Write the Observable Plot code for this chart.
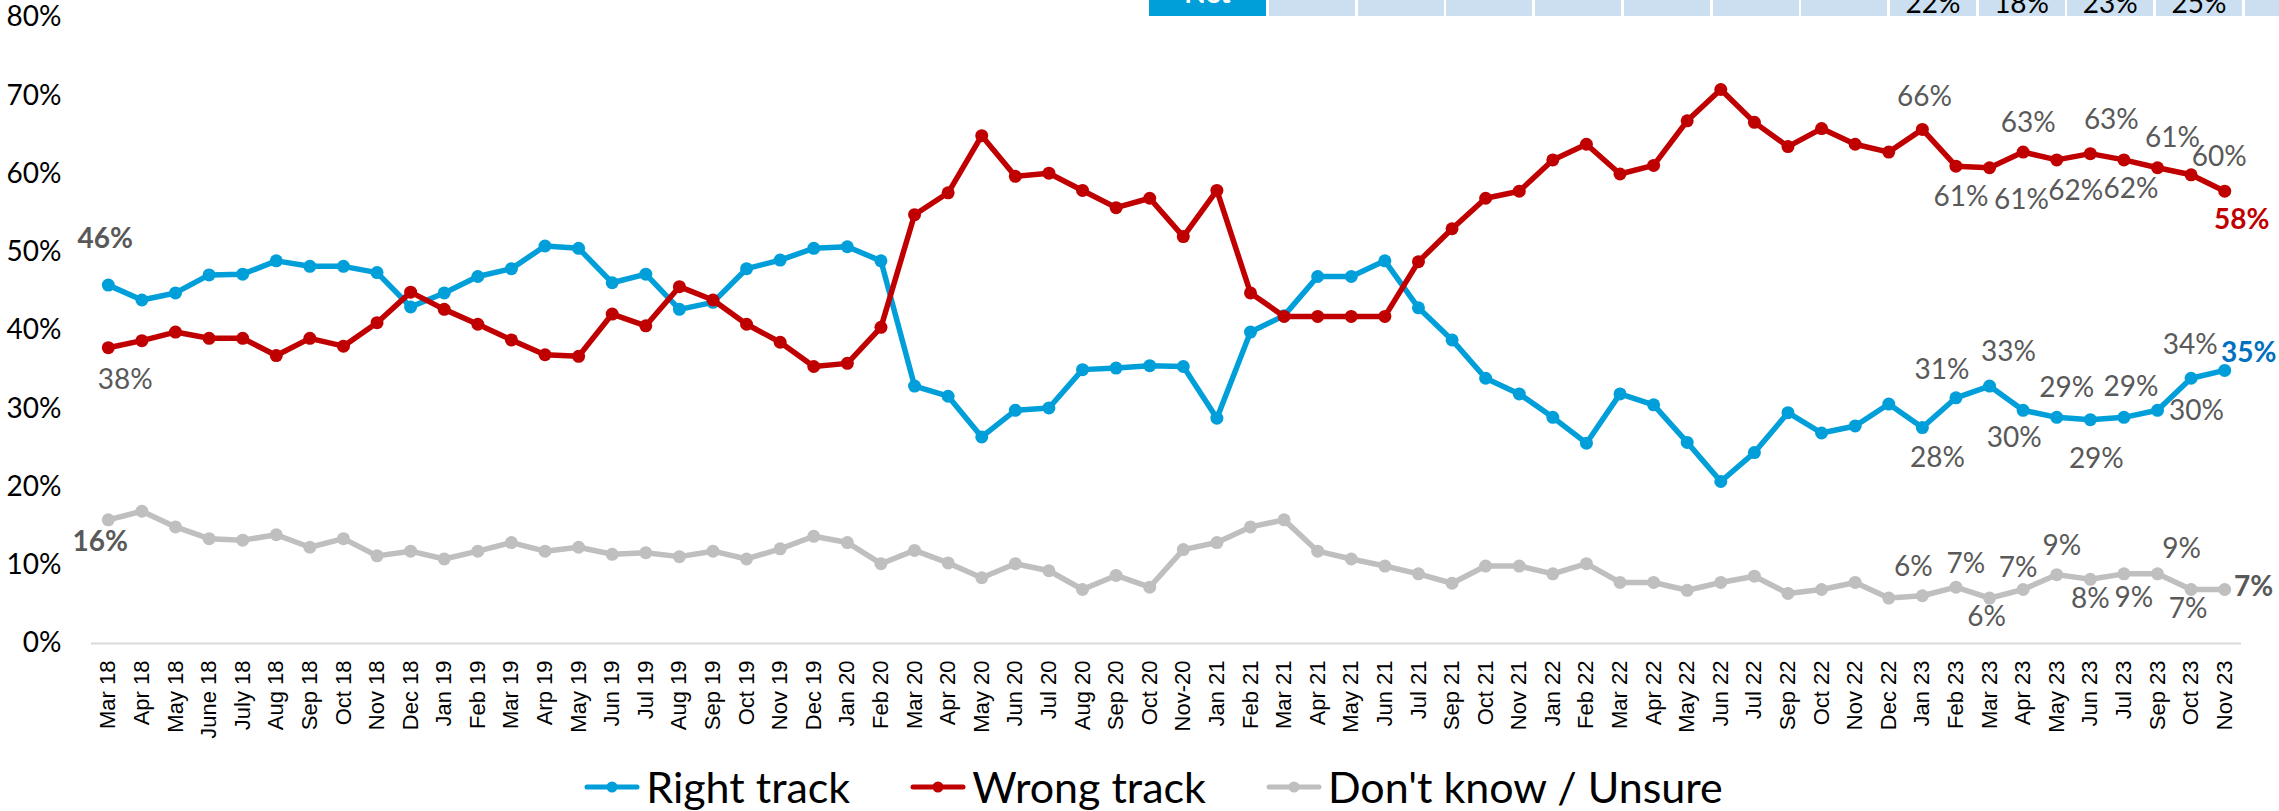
<!DOCTYPE html>
<html><head><meta charset="utf-8">
<script src="https://cdn.jsdelivr.net/npm/d3@7"></script>
<script src="https://cdn.jsdelivr.net/npm/@observablehq/plot@0.6"></script>
<style>
html,body{margin:0;padding:0;background:#fff;}
body{width:2279px;height:811px;overflow:hidden;position:relative;font-family:Lato,"Open Sans",sans-serif;}
#chart{position:absolute;left:0;top:0;}
.cell{position:absolute;top:0;height:16px;}
.cell span{position:absolute;left:0;right:0;text-align:center;font-size:28px;line-height:28px;white-space:nowrap;}
#legend{position:absolute;left:0;top:765px;width:2279px;display:flex;justify-content:center;padding-left:28px;box-sizing:border-box;font-size:43px;line-height:43px;color:#000;}
.item{display:flex;align-items:center;margin:0 30px;}
.item svg{margin-right:6px;}
</style></head><body>
<div id="chart"></div>
<div id="strip"></div>
<div id="legend"></div>
<script>
// ---------- data ----------
const months = ["Mar 18","Apr 18","May 18","June 18","July 18","Aug 18","Sep 18","Oct 18","Nov 18","Dec 18",
"Jan 19","Feb 19","Mar 19","Arp 19","May 19","Jun 19","Jul 19","Aug 19","Sep 19","Oct 19","Nov 19","Dec 19",
"Jan 20","Feb 20","Mar 20","Apr 20","May 20","Jun 20","Jul 20","Aug 20","Sep 20","Oct 20","Nov-20",
"Jan 21","Feb 21","Mar 21","Apr 21","May 21","Jun 21","Jul 21","Sep 21","Oct 21","Nov 21",
"Jan 22","Feb 22","Mar 22","Apr 22","May 22","Jun 22","Jul 22","Sep 22","Oct 22","Nov 22","Dec 22",
"Jan 23","Feb 23","Mar 23","Apr 23","May 23","Jun 23","Jul 23","Sep 23","Oct 23","Nov 23"];

const rightTrack = [45.8,43.9,44.8,47.1,47.2,48.9,48.2,48.2,47.4,43.0,
44.8,46.9,47.9,50.8,50.5,46.1,47.2,42.7,43.6,47.9,
49.0,50.5,50.7,48.9,32.9,31.6,26.4,29.8,30.1,35.0,
35.2,35.5,35.4,28.8,39.8,41.9,46.9,46.9,48.9,42.9,
38.8,33.9,31.9,28.9,25.6,31.9,30.5,25.7,20.7,24.4,
29.5,26.9,27.8,30.6,27.6,31.4,32.9,29.8,28.9,28.6,
28.9,29.8,33.9,34.9];

const wrongTrack = [37.8,38.7,39.8,39.0,39.0,36.8,39.0,38.0,41.0,44.9,
42.7,40.8,38.8,36.9,36.7,42.1,40.6,45.6,43.9,40.8,
38.5,35.4,35.8,40.4,54.8,57.6,64.9,59.7,60.1,57.9,
55.7,56.9,52.0,57.9,44.8,41.8,41.8,41.8,41.8,48.8,
53.0,56.9,57.8,61.8,63.8,60.0,61.1,66.8,70.8,66.6,
63.5,65.8,63.8,62.8,65.7,61.0,60.8,62.8,61.8,62.6,
61.8,60.8,59.9,57.8];

const dontKnow = [15.8,16.9,14.9,13.4,13.2,13.9,12.3,13.4,11.2,11.8,
10.8,11.8,12.9,11.8,12.3,11.4,11.6,11.1,11.8,10.8,
12.1,13.7,12.9,10.2,11.9,10.3,8.4,10.2,9.3,6.9,
8.7,7.2,12.0,12.9,14.9,15.8,11.8,10.8,9.9,8.9,
7.7,9.9,9.9,8.9,10.2,7.8,7.8,6.8,7.8,8.6,
6.4,6.9,7.8,5.8,6.1,7.2,5.8,6.9,8.8,8.2,
8.9,8.9,6.9,6.9];

const seriesNames = ["Right track","Wrong track","Don't know / Unsure"];
const yTicks = [0,10,20,30,40,50,60,70,80];
const labelledMonths = ["Mar 18","Jan 23","Feb 23","Mar 23","Apr 23","May 23","Jun 23","Jul 23","Sep 23","Oct 23","Nov 23"];
const stripTexts = ["","","","","","","","22%","18%","23%","25%","2"];
const stripHeader = "Net";

// ---------- layout / style ----------
const colors = ["#009FDA","#C00000","#BFBFBF"];
const endColors = ["#0070C0","#C00000","#595959"];
const labelGray = "#595959";
// label nudges (px, relative to the point) as placed in the original
const nudges = [
 {"Mar 18":[-3,-46],"Jan 23":[15,31],"Feb 23":[-14,-28],"Mar 23":[19,-34],"Apr 23":[-9,28],"May 23":[10,-29],"Jun 23":[6,39],"Jul 23":[7,-30],"Sep 23":[39,1],"Oct 23":[-1,-33],"Nov 23":[24,-17]},
 {"Mar 18":[17,32],"Jan 23":[2,-32],"Feb 23":[5,31],"Mar 23":[32,32],"Apr 23":[5,-29],"May 23":[19,31],"Jun 23":[21,-34],"Jul 23":[7,29],"Sep 23":[15,-30],"Oct 23":[28,-18],"Nov 23":[17,29]},
 {"Mar 18":[-8,22],"Jan 23":[-9,-29],"Feb 23":[10,-23],"Mar 23":[-3,19],"Apr 23":[-5,-21],"May 23":[5,-29],"Jun 23":[0,20],"Jul 23":[10,24],"Sep 23":[24,-25],"Oct 23":[-3,20],"Nov 23":[29,-2]}
];
const firstBold = [true,false,true];

const allValues = [rightTrack, wrongTrack, dontKnow];
const rows = allValues.map((vals,s)=>months.map((m,i)=>({month:m, value:vals[i], s})));

const W = 2279, H = 752;
const marks = [Plot.ruleY([0],{stroke:"#D9D9D9",strokeWidth:2})];
rows.forEach((data,s)=>{
  marks.push(Plot.line(data,{x:"month",y:"value",stroke:colors[s],strokeWidth:5.5,strokeLinejoin:"round",strokeLinecap:"round"}));
  marks.push(Plot.dot(data,{x:"month",y:"value",r:6.5,fill:colors[s],stroke:null}));
});
rows.forEach((data,s)=>{
  labelledMonths.forEach(m=>{
    const d = data.find(r=>r.month===m);
    const [dx,dy] = nudges[s][m];
    const isFirst = m===months[0], isLast = m===months[months.length-1];
    const bold = isLast || (isFirst && firstBold[s]);
    marks.push(Plot.text([d],{x:"month",y:"value",text:r=>Math.round(r.value)+"%",dx,dy,
      fill: isLast ? endColors[s] : labelGray, fontWeight: bold?"bold":"normal",
      fontSize:28, fontFamily:"Lato", textAnchor:"middle", lineAnchor:"middle"}));
  });
});
marks.push(Plot.axisY({ticks:yTicks,tickFormat:d=>d+"%",tickSize:0,tickPadding:30,fontSize:28,fontFamily:"Lato",fill:"#000",label:null}));
marks.push(Plot.axisX({tickRotate:-90,tickSize:0,tickPadding:17,fontSize:22,fontFamily:"Liberation Sans, Arial, sans-serif",fill:"#000",label:null}));

const chart = Plot.plot({
  width:W, height:H,
  marginLeft:91, marginRight:38, marginTop:17, marginBottom:H-643,
  x:{type:"point",domain:months,padding:0.5},
  y:{domain:[0,80]},
  style:{fontFamily:"Lato",color:"#000",background:"#fff",overflow:"visible"},
  marks
});
document.getElementById("chart").appendChild(chart);

// top strip (cropped table)
const strip = document.getElementById("strip");
const head = document.createElement("div");
head.className="cell"; head.style.left="1149px"; head.style.width="117px"; head.style.background="#009FDA";
head.innerHTML = `<span style="top:-22px;color:#fff;font-weight:bold">${stripHeader}</span>`;
strip.appendChild(head);
stripTexts.forEach((t,k)=>{
  const c = document.createElement("div");
  c.className="cell"; c.style.left=(1269+k*88.7)+"px"; c.style.width="86px"; c.style.background="#CCDFF0";
  c.innerHTML = `<span style="top:-12px;color:#000">${t}</span>`;
  strip.appendChild(c);
});

// legend
const legend = document.getElementById("legend");
seriesNames.forEach((n,s)=>{
  const it = document.createElement("div"); it.className="item";
  it.innerHTML = `<svg width="56" height="20"><line x1="3" y1="10" x2="53" y2="10" stroke="${colors[s]}" stroke-width="5" stroke-linecap="round"/><circle cx="28" cy="10" r="5.5" fill="${colors[s]}"/></svg><span>${n}</span>`;
  legend.appendChild(it);
});
</script>
</body></html>
